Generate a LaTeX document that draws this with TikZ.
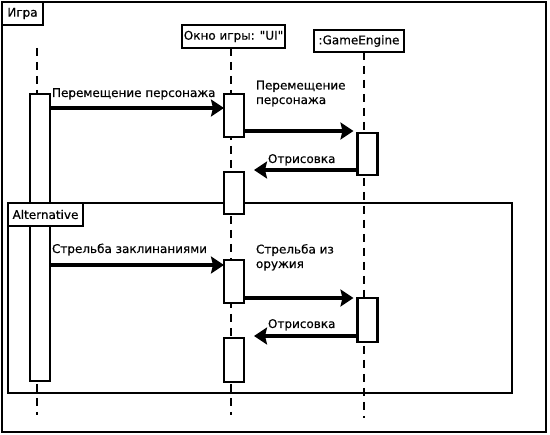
\documentclass[tikz,border=0pt]{standalone}
\usepackage{fontspec}
\newfontfamily\djfont{DejaVu Sans}[FakeBold=0.4]
\usetikzlibrary{arrows.meta}
\begin{document}
\begin{tikzpicture}[x=1pt,y=-1pt,
  every node/.style={font=\djfont\fontsize{12}{14.5}\selectfont, inner sep=0pt, outer sep=0pt},
  frame/.style={draw, line width=2.4pt},
  tagbox/.style={draw, line width=2.4pt, fill=white, anchor=north west},
  head/.style={draw, line width=2.4pt, fill=white},
  act/.style={draw, line width=2.4pt, fill=white, minimum width=20pt},
  life/.style={line width=1.6pt, dash pattern=on 8pt off 6pt},
  msg/.style={line width=4.6pt, -{Stealth[length=13pt,width=17pt,inset=2pt]}},
  lbl/.style={anchor=base west, align=left}]
\useasboundingbox (0,0) rectangle (550,435);
% frames
\node[frame, minimum width=544pt, minimum height=430pt] (game) at (274,217) {};
\node[frame, minimum width=504pt, minimum height=190pt] (alt) at (260,298) {};
% heads
\node[head, minimum width=103pt, minimum height=23pt] (h2) at (233.5,36.5) {Окно игры: "UI"};
\node[head, minimum width=90pt, minimum height=22pt] (h3) at (359,41) {:GameEngine};
% lifelines
\coordinate (l1top) at (37,48);
\coordinate (l1bot) at (37,415);
\draw[life] (l1top) -- (l1bot);
\draw[life] ([xshift=-2.5pt]h2.south) -- ++(0,367);
\draw[life] ([xshift=5pt]h3.south) -- ++(0,366);
% activations
\node[act, minimum height=287pt] (a1) at (40,237.5) {};
\node[act, minimum height=43pt] (a2a) at (234,115.5) {};
\node[act, minimum height=42pt] (a2b) at (234,193) {};
\node[act, minimum height=42pt] (a3a) at (367.5,154) {};
\node[act, minimum height=43pt] (a2c) at (234,281.5) {};
\node[act, minimum height=44pt] (a3b) at (367.5,320) {};
\node[act, minimum height=44pt] (a2d) at (234,360) {};
% tags
\node[tagbox, minimum width=41pt, minimum height=23pt] (tg) at (game.north west) {Игра};
\node[tagbox, minimum width=75pt, minimum height=23pt] (ta) at (alt.north west) {Alternative};
% messages
\draw[msg] (a1.east |- 0,108) -- (a2a.west |- 0,108);
\node[lbl] (m1) at (52,97) {Перемещение персонажа};
\draw[msg] (a2a.east |- 0,131) -- ([xshift=-4pt]a3a.west |- 0,131);
\node[lbl] (m2) at (256,104) {Перемещение\\персонажа};
\draw[msg] (a3a.west |- 0,170) -- ([xshift=10pt]a2b.east |- 0,170);
\node[lbl] (m3) at (268,163) {Отрисовка};
\draw[msg] (a1.east |- 0,265) -- (a2c.west |- 0,265);
\node[lbl] (m4) at (52,253) {Стрельба заклинаниями};
\draw[msg] (a2c.east |- 0,298) -- ([xshift=-4pt]a3b.west |- 0,298);
\node[lbl] (m5) at (256,268) {Стрельба из\\оружия};
\draw[msg] (a3b.west |- 0,336) -- ([xshift=10pt]a2d.east |- 0,336);
\node[lbl] (m6) at (268,328) {Отрисовка};
\end{tikzpicture}
\end{document}
